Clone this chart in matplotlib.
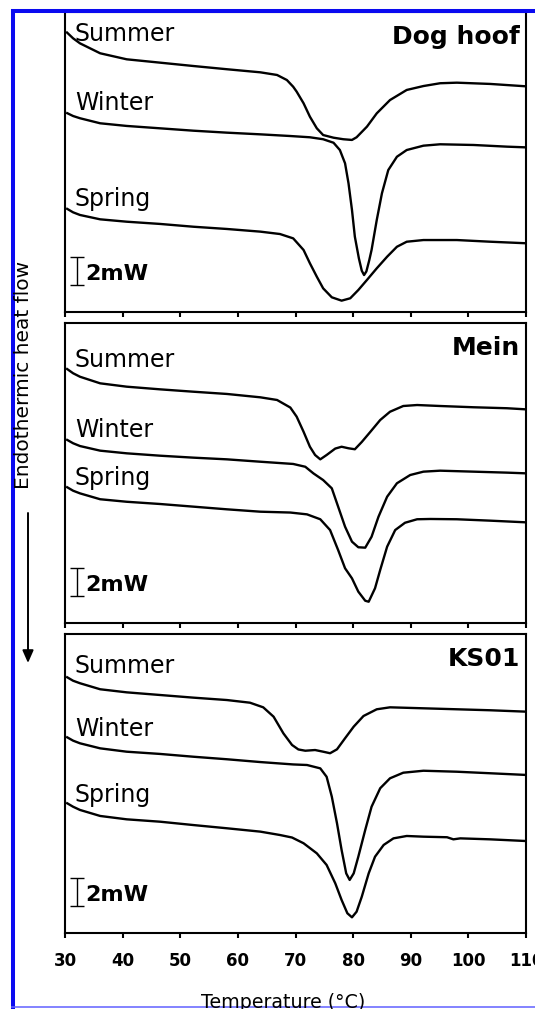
"""DSC thermograms of hoof/horn samples collected in summer, winter and spring."""
from __future__ import annotations

import matplotlib

matplotlib.use("Agg")
import matplotlib.pyplot as plt
from matplotlib.lines import Line2D
from matplotlib.patches import FancyArrowPatch

FIG_W_PX = 535
FIG_H_PX = 1009
DPI = 100
PX_PER_MW = 14.0

SEASONS = ["Summer", "Winter", "Spring"]
SAMPLES = ["Dog hoof", "Mein", "KS01"]
TEMP_TICKS = [30, 40, 50, 60, 70, 80, 90, 100, 110]
SCALE_BAR_MW = 2.0

# Heat flow in mW (each trace shifted vertically), temperature in degC
DOG_SUMMER_T = [30.2, 31.4, 32.6, 36.1, 40.7, 46.5, 52.3, 58.1, 63.9, 66.8, 68.5, 69.6, 70.2, 71.4, 72.5,
                73.7, 74.8, 76.6, 78.3, 79.8, 80.6, 82.4, 84.1, 86.4, 89.3, 92.2, 95.1, 98.0, 103.8, 110.0]
DOG_SUMMER_Q = [20.02, 19.55, 19.19, 18.48, 18.05, 17.81, 17.57, 17.34, 17.12, 16.93, 16.57, 16.09, 15.74, 14.91, 13.95,
                13.12, 12.64, 12.45, 12.34, 12.29, 12.48, 13.24, 14.19, 15.14, 15.86, 16.14, 16.34, 16.38, 16.29, 16.12]

DOG_WINTER_T = [30.2, 31.4, 32.6, 36.1, 40.7, 46.5, 52.3, 58.1, 63.9, 69.1, 72.5, 74.8, 76.6, 77.7, 78.6, 79.2,
                79.8, 80.3, 81.0, 81.5, 81.9, 82.3, 82.8, 83.2, 84.1, 85.0, 86.1, 87.6, 89.3, 92.2, 95.1, 100.9,
                106.7, 110.0]
DOG_WINTER_Q = [14.24, 14.0, 13.84, 13.48, 13.29, 13.12, 12.95, 12.81, 12.69, 12.57, 12.48, 12.34, 12.09, 11.57, 10.62, 9.19,
                7.29, 5.38, 3.83, 2.95, 2.64, 2.9, 3.7, 4.43, 6.57, 8.48, 10.14, 11.09, 11.57, 11.88, 11.98, 11.93,
                11.81, 11.76]

DOG_SPRING_T = [30.2, 31.4, 32.6, 36.1, 40.7, 46.5, 52.3, 58.1, 63.9, 67.3, 69.6, 71.4, 72.5, 73.7, 74.8, 76.3,
                78.0, 79.5, 80.9, 82.4, 84.1, 85.9, 87.6, 89.3, 92.2, 98.0, 103.8, 110.0]
DOG_SPRING_Q = [7.41, 7.12, 6.93, 6.62, 6.45, 6.29, 6.09, 5.93, 5.74, 5.57, 5.26, 4.43, 3.48, 2.52, 1.69, 1.05,
                0.81, 0.98, 1.57, 2.29, 3.12, 3.95, 4.66, 5.02, 5.14, 5.14, 5.02, 4.91]

MEIN_SUMMER_T = [30.2, 31.4, 32.6, 36.1, 40.7, 46.5, 52.3, 58.1, 63.9, 66.8, 69.1, 70.2, 71.4, 72.5, 73.4, 74.3,
                 75.4, 76.9, 78.0, 79.2, 80.3, 81.5, 83.0, 84.7, 86.4, 88.7, 91.1, 95.1, 100.9, 106.7, 110.0]
MEIN_SUMMER_Q = [18.19, 17.84, 17.59, 17.12, 16.88, 16.69, 16.52, 16.36, 16.12, 15.93, 15.39, 14.74, 13.66, 12.59, 12.0, 11.69,
                 12.0, 12.46, 12.59, 12.48, 12.41, 12.93, 13.66, 14.5, 15.09, 15.5, 15.57, 15.5, 15.41, 15.34, 15.26]

MEIN_WINTER_T = [30.2, 31.4, 32.6, 36.1, 40.7, 46.5, 52.3, 58.1, 63.9, 69.6, 71.7, 73.1, 74.8, 76.3, 77.4, 78.6,
                 79.8, 80.9, 82.1, 83.2, 84.4, 85.9, 87.6, 89.9, 92.2, 95.1, 100.9, 106.7, 110.0]
MEIN_WINTER_Q = [13.12, 12.84, 12.64, 12.31, 12.12, 11.95, 11.81, 11.69, 11.52, 11.36, 11.16, 10.69, 10.21, 9.62, 8.31, 6.88,
                 5.81, 5.41, 5.38, 6.16, 7.59, 9.02, 9.98, 10.57, 10.81, 10.88, 10.81, 10.74, 10.69]

MEIN_SPRING_T = [30.2, 31.4, 32.6, 36.1, 40.7, 46.5, 52.3, 58.1, 63.9, 69.1, 72.0, 74.3, 76.0, 77.4, 78.6, 79.8,
                 80.9, 82.1, 82.7, 83.8, 84.7, 85.9, 87.3, 89.0, 91.1, 93.4, 98.0, 103.8, 110.0]
MEIN_SPRING_Q = [9.74, 9.45, 9.26, 8.84, 8.66, 8.5, 8.31, 8.12, 7.95, 7.89, 7.76, 7.41, 6.64, 5.21, 3.91, 3.19,
                 2.24, 1.59, 1.52, 2.48, 3.79, 5.45, 6.64, 7.16, 7.41, 7.43, 7.41, 7.31, 7.19]

KS01_SUMMER_T = [30.2, 31.4, 32.6, 36.1, 40.7, 46.5, 52.3, 58.1, 62.1, 64.4, 66.2, 67.9, 69.4, 70.5, 71.7, 73.4,
                 74.8, 76.0, 77.2, 78.6, 80.1, 81.8, 84.1, 86.4, 92.2, 98.0, 103.8, 110.0]
KS01_SUMMER_Q = [18.31, 18.02, 17.84, 17.41, 17.19, 17.0, 16.81, 16.64, 16.45, 16.12, 15.45, 14.26, 13.43, 13.11, 13.02, 13.07,
                 12.95, 12.84, 13.12, 13.91, 14.74, 15.5, 15.98, 16.12, 16.05, 15.98, 15.91, 15.81]

KS01_WINTER_T = [30.2, 31.4, 32.6, 36.1, 40.7, 46.5, 52.3, 58.1, 63.9, 69.6, 72.0, 74.3, 75.4, 76.3, 77.2, 78.0,
                 78.8, 79.4, 80.1, 80.9, 82.1, 83.2, 84.7, 86.4, 88.7, 92.2, 98.0, 103.8, 110.0]
KS01_WINTER_Q = [14.02, 13.74, 13.55, 13.19, 12.95, 12.79, 12.59, 12.41, 12.21, 12.04, 12.0, 11.76, 11.16, 9.74, 7.84, 5.93,
                 4.26, 3.79, 4.26, 5.45, 7.36, 9.02, 10.34, 11.05, 11.45, 11.59, 11.52, 11.41, 11.29]

KS01_SPRING_T = [30.2, 31.4, 32.6, 36.1, 40.7, 46.5, 52.3, 58.1, 63.9, 67.3, 69.4, 71.4, 73.7, 75.4, 76.9, 78.0,
                 79.0, 79.8, 80.6, 81.5, 82.7, 83.8, 85.3, 87.0, 89.3, 92.2, 96.3, 97.4, 98.6, 103.8, 110.0]
KS01_SPRING_Q = [9.31, 9.02, 8.79, 8.36, 8.12, 7.95, 7.71, 7.48, 7.24, 7.0, 6.82, 6.41, 5.69, 4.86, 3.55, 2.36,
                 1.41, 1.12, 1.52, 2.59, 4.26, 5.45, 6.29, 6.76, 6.93, 6.88, 6.84, 6.69, 6.76, 6.69, 6.57]

TRACES = {
    "Dog hoof": [(DOG_SUMMER_T, DOG_SUMMER_Q), (DOG_WINTER_T, DOG_WINTER_Q), (DOG_SPRING_T, DOG_SPRING_Q)],
    "Mein": [(MEIN_SUMMER_T, MEIN_SUMMER_Q), (MEIN_WINTER_T, MEIN_WINTER_Q), (MEIN_SPRING_T, MEIN_SPRING_Q)],
    "KS01": [(KS01_SUMMER_T, KS01_SUMMER_Q), (KS01_WINTER_T, KS01_WINTER_Q), (KS01_SPRING_T, KS01_SPRING_Q)],
}

# layout: axes boxes in pixels (left, top, right, bottom) and season label baselines (mW)
PANEL_BOXES = [(65, 12, 526, 312), (65, 323, 526, 623), (65, 634, 526, 933)]
LABEL_BASELINES = {
    "Dog hoof": [19.36, 14.43, 7.57],
    "Mein": [18.31, 13.31, 9.86],
    "KS01": [18.55, 14.07, 9.38],
}
BORDER_BLUE = "#0a0af0"


def _fx(px: float) -> float:
    return px / FIG_W_PX


def _fy(py: float) -> float:
    return 1.0 - py / FIG_H_PX


def _draw_panel(ax, sample: str, show_labels: bool, height_px: float) -> None:
    for season, (temps, flows), y_text in zip(SEASONS, TRACES[sample], LABEL_BASELINES[sample]):
        ax.plot(temps, flows, color="black", linewidth=1.7, solid_joinstyle="round", solid_capstyle="butt")
        ax.text(31.7, y_text, season, fontsize=17, ha="left", va="baseline")

    ax.text(0.987, 0.893, sample, transform=ax.transAxes, ha="right", va="baseline",
            fontsize=18, fontweight="bold")

    # scale bar
    bar_mid = 1.9 + SCALE_BAR_MW / 2
    ax.errorbar([32.1], [bar_mid], yerr=SCALE_BAR_MW / 2, fmt="none", ecolor="black",
                elinewidth=1.0, capsize=5, capthick=1.0)
    ax.text(33.5, 2.3, f"{SCALE_BAR_MW:g}mW", fontsize=16, fontweight="bold", ha="left", va="baseline")

    ax.set_xlim(30, 110)
    ax.set_ylim(0, height_px / PX_PER_MW)
    ax.set_yticks([])
    ax.set_xticks(TEMP_TICKS)
    ax.tick_params(axis="x", direction="out", length=3.6, width=1.5, pad=10,
                   labelbottom=show_labels, labelsize=12)
    for label in ax.get_xticklabels():
        label.set_fontweight("bold")
    for spine in ax.spines.values():
        spine.set_linewidth(1.5)


def main() -> int:
    fig = plt.figure(figsize=(FIG_W_PX / DPI, FIG_H_PX / DPI), dpi=DPI)

    for i, (sample, (left, top, right, bottom)) in enumerate(zip(SAMPLES, PANEL_BOXES)):
        ax = fig.add_axes([_fx(left), _fy(bottom), _fx(right - left), (bottom - top) / FIG_H_PX])
        _draw_panel(ax, sample, show_labels=(i == len(SAMPLES) - 1), height_px=bottom - top)

    fig.text(_fx(283), _fy(993), "Temperature (°C)", fontsize=13.7, ha="center", va="top")
    fig.text(_fx(24), _fy(375), "Endothermic heat flow", fontsize=14.5, rotation=90,
             ha="center", va="center")

    fig.add_artist(FancyArrowPatch((_fx(28), _fy(513)), (_fx(28), _fy(663)), transform=fig.transFigure,
                                   arrowstyle="-|>,head_length=0.75,head_width=0.33", mutation_scale=10,
                                   linewidth=1.4, color="black", shrinkA=0, shrinkB=0))

    # frame around the figure
    fig.add_artist(Line2D([_fx(13), _fx(13)], [_fy(9), _fy(1012)], transform=fig.transFigure,
                          color=BORDER_BLUE, linewidth=2.9, solid_capstyle="butt"))
    fig.add_artist(Line2D([_fx(11), _fx(540)], [_fy(11), _fy(11)], transform=fig.transFigure,
                          color=BORDER_BLUE, linewidth=2.9, solid_capstyle="butt"))
    fig.add_artist(Line2D([_fx(11), _fx(540)], [_fy(1007), _fy(1007)], transform=fig.transFigure,
                          color="#6060ff", linewidth=1.1, solid_capstyle="butt"))

    fig.savefig("out.png", dpi=DPI)
    plt.close(fig)
    return 0


if __name__ == "__main__":
    raise SystemExit(main())
